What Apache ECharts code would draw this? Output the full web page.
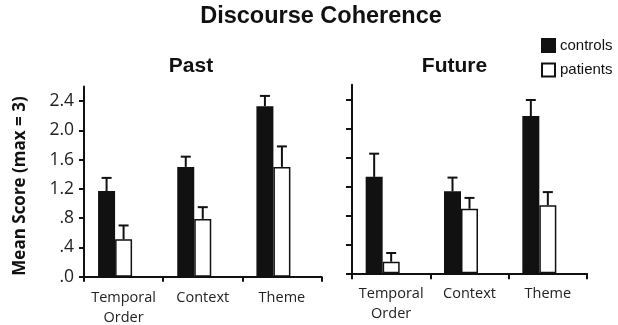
<!DOCTYPE html>
<html>
<head>
<meta charset="utf-8">
<script src="https://cdn.jsdelivr.net/npm/echarts@6/dist/echarts.min.js"></script>
<style>html,body{margin:0;padding:0;background:#fff}#c{width:618px;height:325px}</style>
</head>
<body>
<div id="c"></div>
<script>
// ---- data ----
const categories = ['Temporal\nOrder', 'Context', 'Theme'];
const pastControls = [1.17, 1.50, 2.33];
const pastControlsSE = [0.18, 0.14, 0.14];
const pastPatients = [0.51, 0.79, 1.50];
const pastPatientsSE = [0.19, 0.16, 0.28];
const futureControls = [1.33, 1.13, 2.17];
const futureControlsSE = [0.32, 0.19, 0.22];
const futurePatients = [0.16, 0.89, 0.94];
const futurePatientsSE = [0.12, 0.15, 0.18];
const yTicks = [0, 0.4, 0.8, 1.2, 1.6, 2.0, 2.4];
const yTickLabels = ['.0', '.4', '.8', '1.2', '1.6', '2.0', '2.4'];
const seriesNames = ['controls', 'patients'];
const titleText = 'Discourse Coherence';
const panelTitles = ['Past', 'Future'];
const yAxisName = 'Mean Score (max = 3)';

// ---- styling ----
const BAR_W = 17;
const labelFont = 'Open Sans';
const titleFont = 'Liberation Sans';

const chart = echarts.init(document.getElementById('c'), null, {renderer: 'canvas'});

function errData(means, se) {
  return means.map((m, i) => [i, m, m + se[i]]);
}
function errSeries(idx, means, se, offset) {
  return {
    type: 'custom',
    xAxisIndex: idx, yAxisIndex: idx,
    z: 1,
    silent: true,
    data: errData(means, se),
    renderItem: function (params, api) {
      const base = api.coord([api.value(0), api.value(1)]);
      const top = api.coord([api.value(0), api.value(2)]);
      const x = base[0] + offset;
      return {
        type: 'group',
        children: [
          {type: 'line', shape: {x1: x, y1: base[1], x2: x, y2: top[1]}, style: {stroke: '#111', lineWidth: 2}},
          {type: 'line', shape: {x1: x - 5, y1: top[1], x2: x + 5, y2: top[1]}, style: {stroke: '#111', lineWidth: 2}}
        ]
      };
    }
  };
}
function barSeries(idx, name, data, fill) {
  return {
    type: 'bar', name: name, xAxisIndex: idx, yAxisIndex: idx,
    data: data, barWidth: BAR_W, barGap: '0%', z: 2,
    itemStyle: {color: fill, borderColor: '#111', borderWidth: 1.5},
    emphasis: {disabled: true}
  };
}
function spacer(idx) {
  return {type: 'bar', name: '_spacer' + idx, xAxisIndex: idx, yAxisIndex: idx,
    data: categories.map(() => '-'), barWidth: BAR_W, barGap: '0%', silent: true};
}
function xAx(idx, tickLen) {
  return {
    type: 'category', gridIndex: idx, data: categories,
    axisLine: {lineStyle: {color: '#111', width: 2}},
    axisTick: {show: true, length: tickLen, lineStyle: {color: '#111', width: 2}},
    axisLabel: {fontFamily: labelFont, fontSize: 14.5, color: '#222', lineHeight: 20, margin: 11, interval: 0}
  };
}
function yAx(idx, showLabels, tickLen) {
  return {
    type: 'value', gridIndex: idx, min: 0, max: 2.6, interval: 0.4,
    splitLine: {show: false},
    axisLine: {show: true, lineStyle: {color: '#111', width: 2}},
    axisTick: {show: true, length: tickLen, customValues: yTicks, lineStyle: {color: '#111', width: 2}},
    axisLabel: {show: showLabels, customValues: yTicks, fontFamily: labelFont, fontSize: 17.5, color: '#222', margin: 10,
      formatter: v => { const k = yTicks.findIndex(t => Math.abs(t - v) < 1e-6); return k >= 0 ? yTickLabels[k] : ''; }}
  };
}

chart.setOption({
  animation: false,
  backgroundColor: '#fff',
  grid: [
    {left: 84, width: 237.5, top: 86.4, height: 190.3, outerBoundsMode: 'none', containLabel: false},
    {left: 352, width: 235, top: 84.8, height: 188.5, outerBoundsMode: 'none', containLabel: false}
  ],
  xAxis: [xAx(0, 5), xAx(1, 6)],
  yAxis: [yAx(0, true, 5), yAx(1, false, 6)],
  legend: {
    data: seriesNames, orient: 'vertical', left: 541, top: 38, padding: 0,
    itemWidth: 13, itemHeight: 13, itemGap: 9.5, icon: 'rect',
    textStyle: {fontFamily: titleFont, fontSize: 15, color: '#111'},
    selectedMode: false
  },
  graphic: [
    {type: 'text', x: 321, y: 17, style: {text: titleText, font: 'bold 23.5px "Liberation Sans"', fill: '#111', align: 'center', verticalAlign: 'middle'}},
    {type: 'text', x: 191, y: 66.5, style: {text: panelTitles[0], font: 'bold 21px "Liberation Sans"', fill: '#111', align: 'center', verticalAlign: 'middle'}},
    {type: 'text', x: 454.5, y: 66.5, style: {text: panelTitles[1], font: 'bold 21px "Liberation Sans"', fill: '#111', align: 'center', verticalAlign: 'middle'}},
    {type: 'text', x: 20, y: 186, rotation: Math.PI / 2, style: {text: yAxisName, font: 'bold 17px "Open Sans"', fill: '#111', align: 'center', verticalAlign: 'middle'}}
  ],
  series: [
    barSeries(0, seriesNames[0], pastControls, '#111'),
    barSeries(0, seriesNames[1], pastPatients, '#fff'),
    spacer(0),
    barSeries(1, seriesNames[0], futureControls, '#111'),
    barSeries(1, seriesNames[1], futurePatients, '#fff'),
    spacer(1),
    errSeries(0, pastControls, pastControlsSE, -BAR_W),
    errSeries(0, pastPatients, pastPatientsSE, 0),
    errSeries(1, futureControls, futureControlsSE, -BAR_W),
    errSeries(1, futurePatients, futurePatientsSE, 0)
  ]
});
</script>
</body>
</html>
